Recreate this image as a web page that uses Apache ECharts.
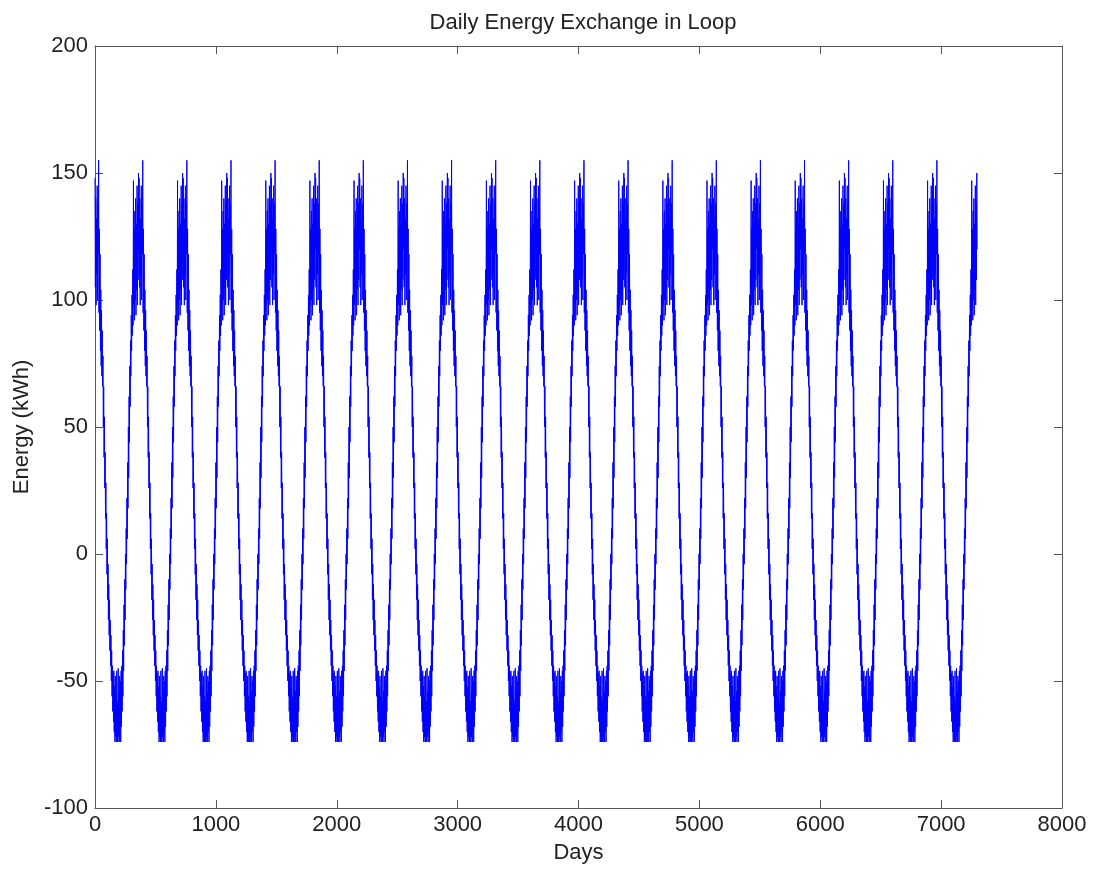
<!DOCTYPE html>
<html>
<head>
<meta charset="utf-8">
<script src="https://cdn.jsdelivr.net/npm/echarts@6/dist/echarts.min.js"></script>
<style>
html,body{margin:0;padding:0;background:#fff;}
#chart{width:1094px;height:874px;}
</style>
</head>
<body>
<div id="chart"></div>
<script>
// Chart text
const chartTitle = 'Daily Energy Exchange in Loop';
const xName = 'Days';
const yName = 'Energy (kWh)';

// Axis ticks
const xTicks = [0, 1000, 2000, 3000, 4000, 5000, 6000, 7000, 8000];
const yTicks = [-100, -50, 0, 50, 100, 150, 200];

// Number of simulated years shown (each cycle repeats the same yearly pattern)
const years = 20;
const daysPerYear = 365;
const stepDays = 3;

// One year's daily energy exchange (kWh), read every 3 days from the picture
const yearProfile = [
  148, 105, 140, 98, 132, 110, 145, 100, 138, 118,
  155, 95, 128, 88, 118, 80, 104, 74, 96, 70,
  88, 66, 78, 50, 66, 38, 54, 26, 40, 14,
  28, 2, 16, -8, 6, -18, -4, -26, -12, -32,
  -18, -38, -26, -44, -32, -50, -38, -56, -44, -62,
  -47, -66, -46, -70, -52, -74, -48, -72, -56, -74,
  -46, -74, -58, -74, -45, -72, -54, -74, -48, -70,
  -50, -74, -46, -68, -44, -62, -38, -56, -30, -46,
  -20, -36, -10, -26, 0, -14, 10, -4, 22, 6,
  36, 18, 50, 30, 62, 44, 74, 58, 84, 70,
  94, 80, 102, 86, 112, 90, 147, 98, 128, 92,
  135, 100, 140, 94, 130, 104, 145, 98, 138, 108,
  150, 120
];

const seriesData = [];
for (let y = 0; y < years; y++) {
  for (let i = 0; i < yearProfile.length; i++) {
    seriesData.push([y * daysPerYear + i * stepDays, yearProfile[i]]);
  }
}

const axisColor = '#555555';
const textColor = '#222222';
const fontFamily = 'Liberation Sans, Arial, Helvetica, sans-serif';
const fs = 22;

const chart = echarts.init(document.getElementById('chart'), null, {renderer: 'canvas'});
chart.setOption({
  animation: false,
  backgroundColor: '#ffffff',
  title: {
    text: chartTitle,
    left: 578, top: 7, textAlign: 'center',
    textStyle: {fontFamily: fontFamily, fontSize: fs, fontWeight: 'normal', color: textColor}
  },
  grid: {left: 95, right: 32, top: 46, bottom: 66, containLabel: false},
  xAxis: [{
    type: 'value', min: xTicks[0], max: xTicks[xTicks.length - 1], interval: 1000,
    position: 'bottom',
    name: xName, nameLocation: 'middle', nameGap: 34,
    nameTextStyle: {fontFamily: fontFamily, fontSize: fs, color: textColor},
    axisLine: {show: true, onZero: false, lineStyle: {color: axisColor, width: 1}},
    axisTick: {show: true, inside: true, length: 8, lineStyle: {color: axisColor}},
    axisLabel: {show: true, margin: 6, fontFamily: fontFamily, fontSize: fs, color: textColor,
      formatter: function (v) { return String(v); }},
    splitLine: {show: false}
  }, {
    type: 'value', min: xTicks[0], max: xTicks[xTicks.length - 1], interval: 1000,
    position: 'top',
    axisLine: {show: true, onZero: false, lineStyle: {color: axisColor, width: 1}},
    axisTick: {show: true, inside: true, length: 8, lineStyle: {color: axisColor}},
    axisLabel: {show: false},
    splitLine: {show: false}
  }],
  yAxis: [{
    type: 'value', min: yTicks[0], max: yTicks[yTicks.length - 1], interval: 50,
    position: 'left',
    name: yName, nameLocation: 'middle', nameGap: 60, nameRotate: 90,
    nameTextStyle: {fontFamily: fontFamily, fontSize: fs, color: textColor},
    axisLine: {show: true, onZero: false, lineStyle: {color: axisColor, width: 1}},
    axisTick: {show: true, inside: true, length: 8, lineStyle: {color: axisColor}},
    axisLabel: {show: true, margin: 7, fontFamily: fontFamily, fontSize: fs, color: textColor,
      formatter: function (v) { return String(v); }},
    splitLine: {show: false}
  }, {
    type: 'value', min: yTicks[0], max: yTicks[yTicks.length - 1], interval: 50,
    position: 'right',
    axisLine: {show: true, onZero: false, lineStyle: {color: axisColor, width: 1}},
    axisTick: {show: true, inside: true, length: 8, lineStyle: {color: axisColor}},
    axisLabel: {show: false},
    splitLine: {show: false}
  }],
  series: [{
    type: 'line',
    xAxisIndex: 0, yAxisIndex: 0,
    data: seriesData,
    showSymbol: false,
    symbol: 'none',
    sampling: null,
    lineStyle: {color: '#0000ff', width: 1},
    itemStyle: {color: '#0000ff'}
  }]
});
</script>
</body>
</html>
